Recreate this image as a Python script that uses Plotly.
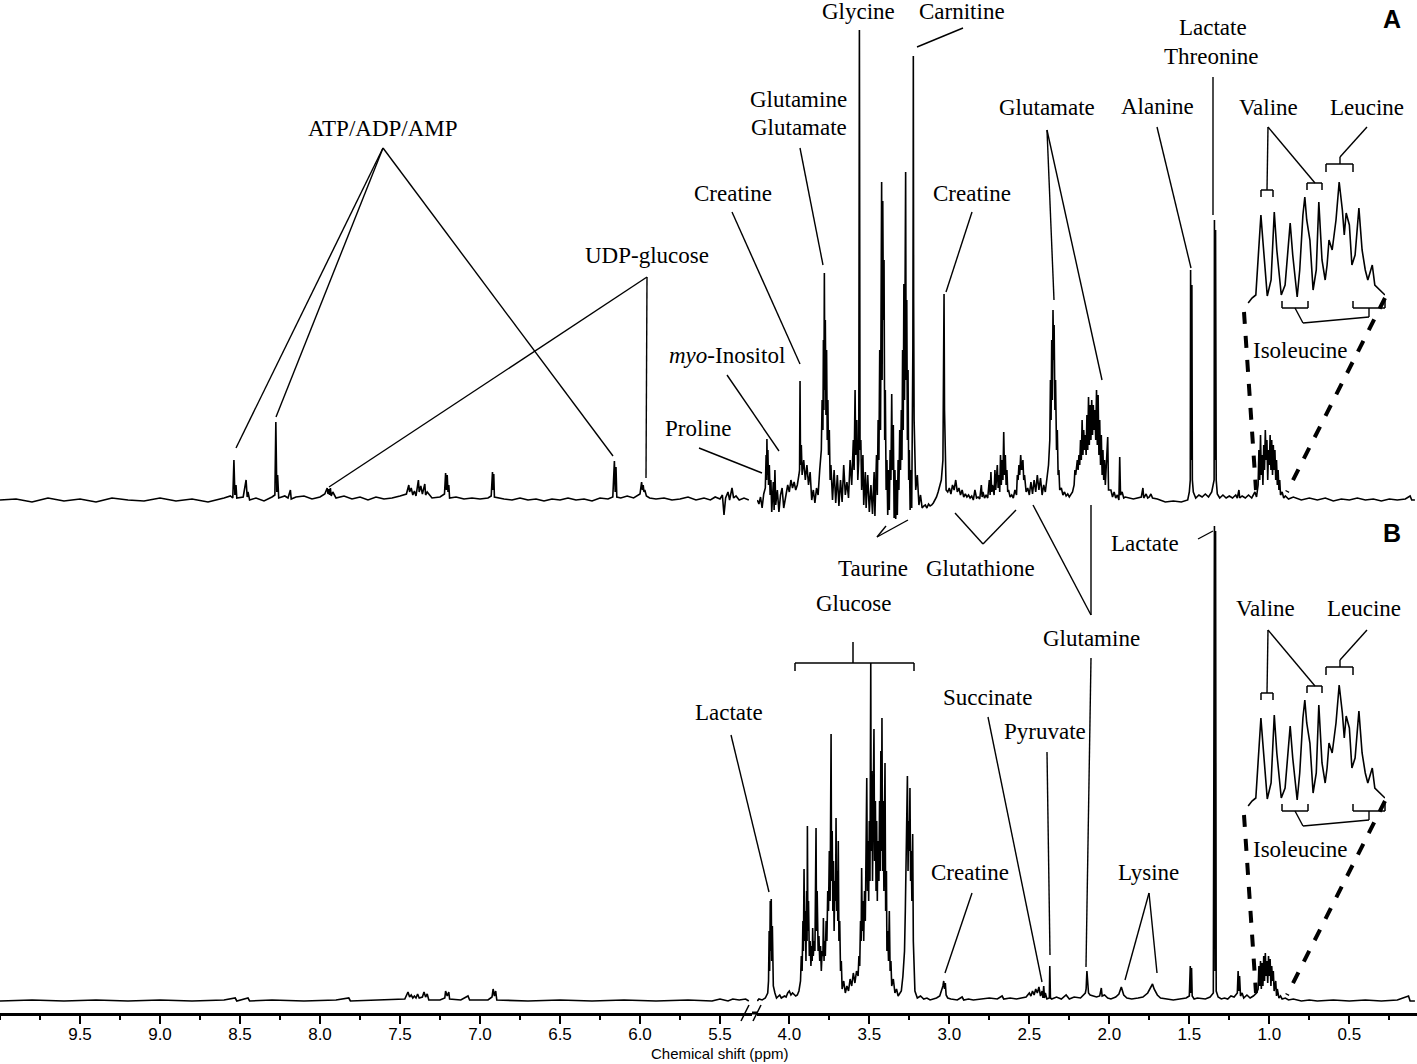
import plotly.graph_objects as go

# ---------------- spectrum data: (ppm, intensity) vertices ----------------
# Panel A (top), low-field part 10.0 - 5.3 ppm
a_left = [(10.0, 0), (9.9, 1), (9.8, -2), (9.7, 2), (9.6, -1), (9.5, 1), (9.4, -2), (9.3, 2), (9.2, 0),
          (9.1, -1), (9.0, 2), (8.9, -1), (8.8, 1), (8.7, -2), (8.6, 2), (8.56, 4), (8.545, 2), (8.538, 40),
          (8.532, 5), (8.525, 15), (8.52, 2), (8.48, 3), (8.462, 20), (8.455, 3), (8.45, 8), (8.44, 0),
          (8.40, 2), (8.35, -1), (8.30, 3), (8.282, 5), (8.276, 78), (8.27, 8), (8.265, 25), (8.258, 2),
          (8.22, 4), (8.20, 2), (8.185, 10), (8.18, 1), (8.15, 3), (8.10, 4), (8.05, 1), (8.00, 3), (7.97, 6),
          (7.955, 12), (7.95, 6), (7.945, 11), (7.94, 5), (7.935, 12), (7.93, 4), (7.92, 8), (7.90, 2),
          (7.85, 4), (7.80, 1), (7.75, 3), (7.70, 0), (7.65, 3), (7.60, 1), (7.55, 2), (7.50, 4), (7.46, 6),
          (7.445, 15), (7.44, 8), (7.43, 12), (7.42, 5), (7.41, 9), (7.40, 4), (7.385, 20), (7.38, 8),
          (7.37, 14), (7.36, 6), (7.345, 16), (7.34, 5), (7.33, 8), (7.30, 2), (7.25, 3), (7.222, 6),
          (7.215, 27), (7.21, 10), (7.205, 25), (7.20, 8), (7.195, 15), (7.19, 2), (7.15, 3), (7.10, 1),
          (7.05, 2), (7.00, 1), (6.95, 2), (6.93, 4), (6.922, 28), (6.918, 10), (6.914, 26), (6.91, 3),
          (6.85, 1), (6.80, 0), (6.75, 2), (6.70, 0), (6.65, 1), (6.60, -1), (6.55, 1), (6.50, 0), (6.45, 2),
          (6.40, 0), (6.35, 1), (6.30, -1), (6.25, 2), (6.20, 1), (6.17, 3), (6.16, 39), (6.155, 8),
          (6.15, 33), (6.145, 3), (6.12, 2), (6.08, 4), (6.04, 2), (6.00, 6), (5.99, 18), (5.985, 10),
          (5.98, 15), (5.975, 8), (5.97, 10), (5.96, 4), (5.94, 2), (5.90, 1), (5.85, 2), (5.80, 0), (5.75, 1),
          (5.70, 3), (5.65, 0), (5.60, 2), (5.56, 0), (5.53, 3), (5.50, 1), (5.485, 5), (5.475, -15),
          (5.465, 2), (5.45, 8), (5.44, 0), (5.425, 12), (5.415, 2), (5.40, 4), (5.38, 0), (5.35, 2), (5.32, 0)]

# Panel A, high-field part 4.2 - 0.08 ppm
a_right = [(4.20, 0), (4.19, -4), (4.18, 3), (4.17, -8), (4.16, 6), (4.15, 12), (4.145, 45), (4.142, 20),
           (4.140, 61), (4.137, 25), (4.134, 50), (4.13, 15), (4.125, 35), (4.12, 5), (4.115, 20), (4.11, -12),
           (4.10, 18), (4.095, -10), (4.09, 30), (4.085, -5), (4.075, 10), (4.065, -12), (4.055, 5),
           (4.045, 12), (4.035, -8), (4.02, 8), (4.01, 15), (4.00, 8), (3.99, 20), (3.98, 12), (3.97, 18),
           (3.96, 10), (3.95, 15), (3.94, 25), (3.936, 30), (3.933, 119), (3.930, 35), (3.925, 55), (3.92, 25),
           (3.91, 40), (3.90, 20), (3.89, 35), (3.88, 15), (3.87, 28), (3.86, 0), (3.85, 10), (3.84, -3),
           (3.83, 12), (3.82, 5), (3.81, 30), (3.80, 50), (3.795, 100), (3.79, 70), (3.787, 160), (3.784, 90),
           (3.781, 227), (3.778, 110), (3.775, 180), (3.771, 85), (3.767, 150), (3.763, 60), (3.759, 100),
           (3.755, 45), (3.75, 70), (3.745, 20), (3.74, 35), (3.73, 0), (3.72, 30), (3.71, -3), (3.70, 25),
           (3.69, -6), (3.68, 20), (3.67, -2), (3.66, 35), (3.65, 5), (3.64, 18), (3.63, 2), (3.62, 40),
           (3.61, 15), (3.60, 60), (3.595, 30), (3.589, 110), (3.585, 45), (3.578, 80), (3.572, 20),
           (3.566, 40), (3.562, 470), (3.558, 50), (3.553, 60), (3.548, 10), (3.54, 45), (3.535, -5),
           (3.525, 28), (3.52, -8), (3.51, 25), (3.50, -12), (3.49, 15), (3.48, -14), (3.47, 28), (3.465, -16),
           (3.455, 45), (3.45, 5), (3.445, 80), (3.44, 40), (3.435, 150), (3.43, 70), (3.426, 260),
           (3.423, 318), (3.42, 120), (3.416, 299), (3.412, 180), (3.408, 240), (3.404, 60), (3.40, 110),
           (3.395, 10), (3.39, 40), (3.385, -15), (3.38, 30), (3.375, -10), (3.37, 50), (3.365, 20),
           (3.36, 106), (3.356, 30), (3.35, 75), (3.345, -18), (3.34, 30), (3.335, -19), (3.33, 20),
           (3.325, -15), (3.32, 40), (3.315, 10), (3.31, 70), (3.305, 30), (3.30, 90), (3.296, 40),
           (3.292, 150), (3.288, 70), (3.284, 216), (3.28, 100), (3.277, 250), (3.273, 328), (3.27, 120),
           (3.266, 200), (3.262, 60), (3.258, 130), (3.254, 20), (3.25, 50), (3.245, -10), (3.24, 30),
           (3.235, -8), (3.23, 60), (3.228, 150), (3.226, 300), (3.225, 444), (3.223, 200), (3.22, 80),
           (3.215, 40), (3.21, 10), (3.20, 25), (3.19, -5), (3.18, 5), (3.17, -8), (3.16, -6), (3.15, -5),
           (3.14, -8), (3.13, -4), (3.12, -6), (3.11, -5), (3.10, -3), (3.09, 0), (3.08, 3), (3.07, 8),
           (3.06, 15), (3.05, 20), (3.04, 40), (3.036, 100), (3.033, 206), (3.030, 90), (3.026, 30),
           (3.02, 10), (3.01, 8), (3.00, 12), (2.99, 6), (2.98, 15), (2.97, 10), (2.96, 20), (2.95, 8),
           (2.94, 12), (2.93, 5), (2.92, 10), (2.91, 3), (2.90, 6), (2.89, 3), (2.88, 5), (2.87, 2), (2.86, 4),
           (2.85, 0), (2.84, 10), (2.83, 2), (2.82, 3), (2.81, 1), (2.80, 15), (2.795, 3), (2.79, 8), (2.78, 2),
           (2.77, 5), (2.76, 2), (2.75, 20), (2.745, 5), (2.74, 28), (2.735, 8), (2.73, 15), (2.72, 5),
           (2.715, 30), (2.71, 10), (2.70, 35), (2.695, 12), (2.69, 25), (2.685, 8), (2.68, 45), (2.675, 15),
           (2.67, 40), (2.665, 20), (2.66, 68), (2.655, 25), (2.65, 45), (2.645, 15), (2.64, 30), (2.635, 8),
           (2.63, 10), (2.62, 3), (2.61, 5), (2.60, 2), (2.59, 10), (2.58, 5), (2.575, 25), (2.57, 20),
           (2.565, 35), (2.56, 25), (2.554, 45), (2.548, 30), (2.54, 40), (2.535, 20), (2.53, 25), (2.52, 8),
           (2.51, 12), (2.50, 5), (2.49, 18), (2.48, 6), (2.47, 20), (2.46, 8), (2.45, 25), (2.44, 10),
           (2.43, 22), (2.42, 5), (2.41, 15), (2.40, 8), (2.39, 20), (2.38, 35), (2.372, 60), (2.368, 120),
           (2.364, 80), (2.36, 160), (2.356, 100), (2.352, 190), (2.348, 140), (2.345, 175), (2.34, 90),
           (2.336, 120), (2.33, 50), (2.325, 70), (2.32, 25), (2.315, 30), (2.31, 10), (2.30, 12), (2.29, 5),
           (2.28, 8), (2.27, 4), (2.26, 6), (2.25, 3), (2.24, 5), (2.23, 8), (2.22, 15), (2.215, 30),
           (2.21, 25), (2.20, 40), (2.195, 30), (2.19, 45), (2.185, 35), (2.18, 60), (2.175, 40), (2.17, 80),
           (2.165, 45), (2.16, 70), (2.155, 50), (2.15, 65), (2.145, 45), (2.14, 85), (2.135, 50), (2.13, 103),
           (2.125, 55), (2.12, 95), (2.115, 60), (2.11, 100), (2.105, 65), (2.10, 95), (2.095, 70), (2.09, 90),
           (2.085, 60), (2.08, 110), (2.075, 55), (2.07, 105), (2.065, 45), (2.06, 80), (2.055, 35), (2.05, 65),
           (2.045, 25), (2.04, 50), (2.035, 20), (2.03, 40), (2.025, 15), (2.01, 63), (2.005, 10), (1.99, 10),
           (1.98, 3), (1.97, 8), (1.96, 2), (1.95, 5), (1.94, 0), (1.935, 43), (1.93, 5), (1.92, 8), (1.91, 2),
           (1.90, 3), (1.85, 1), (1.80, 3), (1.79, 12), (1.785, 2), (1.77, 6), (1.76, 2), (1.75, 3), (1.74, 6),
           (1.73, 2), (1.70, 1), (1.65, -2), (1.60, -1), (1.55, -2), (1.51, 0), (1.50, 8), (1.494, 20),
           (1.492, 230), (1.488, 40), (1.484, 215), (1.481, 20), (1.475, 8), (1.46, 2), (1.44, 5), (1.42, 3),
           (1.40, 6), (1.38, 3), (1.36, 8), (1.345, 20), (1.343, 280), (1.339, 40), (1.336, 270),
           (1.332, 20), (1.325, 6), (1.31, 2), (1.29, 5), (1.27, 2), (1.25, 4), (1.23, 2), (1.21, 5),
           (1.20, 2), (1.19, 10), (1.185, 2), (1.17, 4), (1.15, 2), (1.13, 5), (1.11, 2), (1.09, 8), (1.08, 3),
           (1.07, 15), (1.065, 50), (1.06, 20), (1.055, 65), (1.05, 25), (1.045, 45), (1.04, 15), (1.035, 55),
           (1.03, 30), (1.025, 70), (1.02, 40), (1.015, 60), (1.01, 20), (1.005, 50), (1.00, 35), (0.995, 65),
           (0.99, 30), (0.985, 60), (0.98, 25), (0.975, 55), (0.97, 30), (0.965, 50), (0.96, 20), (0.955, 40),
           (0.95, 15), (0.945, 30), (0.94, 10), (0.935, 20), (0.93, 5), (0.92, 8), (0.91, 2), (0.90, 4),
           (0.88, 1), (0.85, 3), (0.80, 0), (0.75, 2), (0.70, 0), (0.65, 2), (0.60, -1), (0.55, 1), (0.50, 0),
           (0.45, 2), (0.40, 0), (0.35, 1), (0.30, -1), (0.25, 1), (0.20, 0), (0.15, 1), (0.12, 4), (0.11, 0),
           (0.09, 0)]

# Panel B (bottom), low-field part
b_left = [(10.0, 0), (9.8, 1), (9.6, 0), (9.4, 1), (9.2, 0), (9.0, 1), (8.8, 0), (8.6, 1), (8.53, 3),
          (8.52, 0), (8.45, 3), (8.44, 0), (8.3, 1), (8.1, 0), (7.9, 1), (7.82, 3), (7.81, 0), (7.6, 1),
          (7.47, 2), (7.45, 9), (7.44, 4), (7.43, 6), (7.42, 3), (7.41, 5), (7.40, 3), (7.39, 7), (7.38, 3),
          (7.36, 4), (7.35, 9), (7.34, 4), (7.33, 7), (7.32, 1), (7.25, 1), (7.22, 3), (7.215, 10),
          (7.205, 5), (7.195, 9), (7.19, 2), (7.12, 1), (7.075, 5), (7.065, 1), (6.95, 1), (6.925, 4),
          (6.918, 12), (6.91, 5), (6.902, 10), (6.895, 1), (6.7, 0), (6.5, 1), (6.3, 0), (6.1, 1), (5.9, 0),
          (5.7, 1), (5.55, 0), (5.5, 2), (5.45, 0), (5.42, 2), (5.38, 1), (5.34, 2), (5.32, 0)]

# Panel B, high-field part
b_right = [(4.20, 0), (4.19, 2), (4.17, 1), (4.15, 3), (4.135, 8), (4.13, 20), (4.126, 70), (4.123, 30),
           (4.119, 100), (4.116, 50), (4.113, 102), (4.11, 40), (4.106, 75), (4.10, 15), (4.09, 8), (4.08, 3),
           (4.06, 6), (4.05, 3), (4.03, 5), (4.02, 4), (4.01, 8), (4.00, 10), (3.99, 6), (3.98, 8), (3.96, 5),
           (3.95, 6), (3.94, 10), (3.93, 20), (3.925, 45), (3.92, 30), (3.915, 80), (3.912, 50), (3.908, 132),
           (3.904, 60), (3.90, 90), (3.896, 40), (3.892, 110), (3.889, 60), (3.887, 175), (3.884, 70),
           (3.88, 100), (3.875, 45), (3.87, 60), (3.865, 35), (3.86, 55), (3.857, 40), (3.854, 73), (3.85, 45),
           (3.845, 60), (3.84, 50), (3.836, 120), (3.833, 173), (3.83, 70), (3.826, 110), (3.82, 50),
           (3.815, 65), (3.81, 40), (3.805, 55), (3.80, 30), (3.795, 50), (3.79, 45), (3.787, 83), (3.783, 40),
           (3.78, 60), (3.775, 45), (3.77, 80), (3.765, 60), (3.76, 110), (3.755, 90), (3.75, 150),
           (3.745, 100), (3.742, 200), (3.739, 267), (3.736, 120), (3.732, 170), (3.728, 90), (3.724, 140),
           (3.72, 70), (3.715, 120), (3.711, 100), (3.708, 183), (3.704, 90), (3.70, 130), (3.697, 80),
           (3.694, 160), (3.69, 60), (3.685, 80), (3.68, 30), (3.675, 40), (3.67, 12), (3.66, 20), (3.65, 8),
           (3.64, 15), (3.63, 10), (3.62, 22), (3.61, 15), (3.60, 28), (3.59, 18), (3.58, 30), (3.57, 25),
           (3.565, 45), (3.56, 35), (3.555, 80), (3.551, 60), (3.548, 133), (3.544, 70), (3.54, 100),
           (3.535, 60), (3.53, 110), (3.525, 80), (3.52, 150), (3.516, 223), (3.512, 110), (3.508, 160),
           (3.504, 100), (3.50, 180), (3.496, 120), (3.491, 338), (3.488, 150), (3.484, 230), (3.48, 120),
           (3.475, 200), (3.471, 272), (3.467, 140), (3.462, 200), (3.458, 110), (3.454, 180), (3.45, 100),
           (3.447, 160), (3.444, 150), (3.44, 120), (3.436, 200), (3.432, 130), (3.428, 250), (3.424, 150),
           (3.421, 283), (3.417, 130), (3.413, 200), (3.409, 110), (3.405, 200), (3.402, 238), (3.398, 90),
           (3.393, 130), (3.39, 50), (3.385, 70), (3.38, 40), (3.375, 90), (3.37, 30), (3.365, 40), (3.36, 15),
           (3.35, 22), (3.34, 8), (3.33, 12), (3.32, 5), (3.31, 8), (3.30, 10), (3.29, 25), (3.28, 50),
           (3.275, 90), (3.27, 140), (3.266, 180), (3.262, 225), (3.258, 130), (3.254, 180), (3.25, 150),
           (3.246, 213), (3.242, 120), (3.238, 150), (3.234, 100), (3.229, 167), (3.225, 60), (3.22, 30),
           (3.215, 10), (3.20, 3), (3.18, 5), (3.16, 2), (3.14, 3), (3.12, 1), (3.10, 2), (3.08, 3), (3.06, 5),
           (3.05, 10), (3.04, 15), (3.035, 20), (3.03, 12), (3.025, 18), (3.02, 6), (3.01, 3), (2.99, 2),
           (2.95, 1), (2.92, 4), (2.91, 1), (2.88, 2), (2.85, 1), (2.80, 2), (2.75, 3), (2.70, 2), (2.67, 5),
           (2.66, 2), (2.62, 3), (2.58, 2), (2.55, 3), (2.52, 4), (2.50, 8), (2.49, 5), (2.48, 10), (2.47, 6),
           (2.46, 12), (2.45, 8), (2.44, 14), (2.43, 5), (2.42, 10), (2.415, 3), (2.41, 15), (2.405, 3),
           (2.40, 8), (2.39, 2), (2.375, 3), (2.372, 35), (2.368, 3), (2.36, 2), (2.33, 4), (2.30, 2),
           (2.27, 6), (2.25, 2), (2.22, 4), (2.18, 3), (2.15, 8), (2.145, 12), (2.14, 30), (2.135, 12),
           (2.13, 8), (2.12, 6), (2.10, 5), (2.08, 4), (2.06, 5), (2.05, 13), (2.045, 5), (2.03, 6), (2.01, 3),
           (1.99, 2), (1.96, 4), (1.94, 7), (1.925, 14), (1.91, 6), (1.89, 3), (1.86, 2), (1.82, 3), (1.79, 4),
           (1.76, 8), (1.74, 14), (1.73, 17), (1.72, 12), (1.70, 6), (1.68, 3), (1.64, 2), (1.60, 1),
           (1.56, 2), (1.52, 3), (1.50, 5), (1.494, 35), (1.49, 8), (1.486, 33), (1.482, 5), (1.47, 2),
           (1.45, 3), (1.42, 2), (1.40, 2), (1.37, 4), (1.35, 8), (1.343, 475), (1.339, 30), (1.336, 470),
           (1.332, 10), (1.32, 4), (1.30, 2), (1.28, 3), (1.26, 2), (1.24, 5), (1.22, 4), (1.20, 8),
           (1.195, 30), (1.19, 10), (1.186, 25), (1.18, 5), (1.17, 8), (1.16, 3), (1.14, 6), (1.12, 3),
           (1.10, 5), (1.08, 8), (1.07, 12), (1.065, 35), (1.06, 15), (1.055, 40), (1.05, 12), (1.045, 38),
           (1.04, 15), (1.035, 45), (1.03, 20), (1.025, 48), (1.02, 25), (1.015, 40), (1.01, 18), (1.005, 45),
           (1.00, 25), (0.995, 42), (0.99, 15), (0.985, 35), (0.98, 20), (0.975, 30), (0.97, 10), (0.96, 20),
           (0.955, 5), (0.95, 12), (0.94, 3), (0.93, 5), (0.92, 2), (0.90, 3), (0.88, 1), (0.85, 2), (0.80, 0),
           (0.75, 1), (0.70, 0), (0.60, 1), (0.50, 0), (0.40, 1), (0.30, 0), (0.20, 1), (0.13, 5), (0.12, 0),
           (0.09, 0)]

# expanded 1.08 - 0.86 ppm region (Valine / Leucine / Isoleucine), same in both panels
inset = [(1.075, -3), (1.069, 2), (1.063, 5), (1.055, 85), (1.052, 60), (1.045, 4), (1.039, 20),
         (1.034, 88), (1.030, 50), (1.023, 5), (1.017, 15), (1.009, 77), (1.005, 45), (0.998, 3),
         (0.994, 30), (0.989, 85), (0.986, 103), (0.983, 80), (0.978, 60), (0.973, 10), (0.968, 30),
         (0.964, 98), (0.959, 40), (0.954, 20), (0.951, 35), (0.948, 60), (0.943, 50), (0.937, 80),
         (0.932, 118), (0.927, 90), (0.924, 65), (0.921, 87), (0.916, 75), (0.912, 35), (0.907, 45),
         (0.901, 92), (0.896, 50), (0.891, 30), (0.887, 20), (0.880, 35), (0.876, 15), (0.868, 10),
         (0.860, 5)]

left_ticks = [9.5, 9.0, 8.5, 8.0, 7.5, 7.0, 6.5, 6.0, 5.5]
right_ticks = [4.0, 3.5, 3.0, 2.5, 2.0, 1.5, 1.0, 0.5]

# ---------------- figure ----------------
W, H = 1417, 1064
PB = 1013  # pixel row of the x axis line (plot bottom)


def pp(x, y):
    return x / W, (PB - y) / PB


fig = go.Figure()


def add_spec(pts, xa, ya):
    fig.add_trace(go.Scatter(x=[p for p, _ in pts], y=[v for _, v in pts], mode="lines",
                             line=dict(color="black", width=1.6), xaxis=xa, yaxis=ya,
                             hoverinfo="skip", showlegend=False))


add_spec(a_left, "x", "y")
add_spec(a_right, "x2", "y")
add_spec(b_left, "x", "y2")
add_spec(b_right, "x2", "y2")
add_spec(inset, "x3", "y3")
add_spec(inset, "x4", "y4")

tickfont = dict(family="Liberation Sans", size=17, color="black")
axis_common = dict(anchor="y2", ticks="outside", ticklen=8, tickwidth=1.5, tickcolor="black",
                   ticklabelstandoff=-4,
                   showline=True, linewidth=3, linecolor="black", showgrid=False, zeroline=False,
                   tickfont=tickfont,
                   minor=dict(tickmode="linear", tick0=0, dtick=0.25, ticks="outside", ticklen=4,
                              tickwidth=1.5, tickcolor="black"))

fig.update_layout(
    width=W, height=H, margin=dict(l=0, r=0, t=0, b=H - PB),
    paper_bgcolor="white", plot_bgcolor="white", showlegend=False,
    xaxis=dict(domain=[0, 752 / W], range=[10.0, 5.3], tickmode="array", tickvals=left_ticks,
               ticktext=[f"{v:.1f}" for v in left_ticks], **axis_common),
    xaxis2=dict(domain=[757 / W, 1], range=[4.202, 0.077], tickmode="array", tickvals=right_ticks,
                ticktext=[f"{v:.1f}" for v in right_ticks], **axis_common),
    yaxis=dict(domain=[pp(0, 520)[1], 1], range=[-20, 500], visible=False),
    yaxis2=dict(domain=[0, pp(0, 520)[1]], range=[-12, 481], visible=False),
    xaxis3=dict(domain=[1245 / W, 1385 / W], range=[1.08, 0.86], anchor="y3", visible=False),
    yaxis3=dict(domain=[pp(0, 310)[1], pp(0, 170)[1]], range=[-10, 130], anchor="x3", visible=False),
    xaxis4=dict(domain=[1245 / W, 1385 / W], range=[1.08, 0.86], anchor="y4", visible=False),
    yaxis4=dict(domain=[pp(0, 813)[1], pp(0, 673)[1]], range=[-10, 130], anchor="x4", visible=False),
)

# ---------------- labels ----------------
serif = dict(family="Liberation Serif", size=23, color="black")
labels = [
    ("ATP/ADP/AMP", 383, 128), ("UDP-glucose", 647, 255), ("Creatine", 733, 193),
    ("<i>myo</i>-Inositol", 727, 355), ("Proline", 698, 428), ("Glutamine", 798, 100),
    ("Glutamate", 799, 127), ("Glycine", 858, 12), ("Carnitine", 962, 11), ("Creatine", 972, 193),
    ("Glutamate", 1047, 108), ("Alanine", 1157, 107), ("Lactate", 1213, 28), ("Threonine", 1211, 56),
    ("Valine", 1268, 108), ("Leucine", 1367, 108), ("Isoleucine", 1300, 350),
    ("Taurine", 873, 568), ("Glutathione", 980, 568), ("Glutamine", 1091, 638),
    ("Lactate", 1145, 543), ("Glucose", 853, 603), ("Lactate", 729, 712), ("Succinate", 987, 697),
    ("Pyruvate", 1045, 731), ("Creatine", 970, 872), ("Lysine", 1148, 872),
    ("Valine", 1265, 608), ("Leucine", 1364, 608), ("Isoleucine", 1300, 850),
]
for text, x, y in labels:
    px, py = pp(x, y)
    fig.add_annotation(text=text, x=px, y=py, xref="paper", yref="paper", showarrow=False,
                       xanchor="center", yanchor="middle", font=serif)

for text, x, y in [("A", 1392, 19), ("B", 1392, 533)]:
    px, py = pp(x, y)
    fig.add_annotation(text=f"<b>{text}</b>", x=px, y=py, xref="paper", yref="paper", showarrow=False,
                       xanchor="center", yanchor="middle",
                       font=dict(family="Liberation Sans", size=25, color="black"))

px, py = pp(720, 1053)
fig.add_annotation(text="Chemical shift (ppm)", x=px, y=py, xref="paper", yref="paper", showarrow=False,
                   xanchor="center", yanchor="middle",
                   font=dict(family="Liberation Sans", size=15, color="black"))

# ---------------- leader lines / brackets ----------------
shapes = []


def poly(points, width=1.4, dash=None):
    for (x0, y0), (x1, y1) in zip(points[:-1], points[1:]):
        a, b = pp(x0, y0)
        c, d = pp(x1, y1)
        line = dict(color="black", width=width)
        if dash:
            line["dash"] = dash
        shapes.append(dict(type="line", xref="paper", yref="paper", x0=a, y0=b, x1=c, y1=d, line=line))


# panel A
poly([(236, 448), (383, 148), (276, 417)])
poly([(383, 148), (613, 456)])
poly([(329, 487), (647, 277), (646, 478)])
poly([(732, 212), (800, 364)])
poly([(727, 375), (779, 451)])
poly([(699, 448), (762, 473)])
poly([(800, 148), (823, 265)])
poly([(963, 28), (917, 47)])
poly([(972, 212), (946, 292)])
poly([(1054, 300), (1047, 130), (1102, 380)])
poly([(1157, 127), (1191, 268)])
poly([(1213, 77), (1213, 215)])
poly([(886, 526), (877, 537), (908, 520)])
poly([(955, 513), (983, 544), (1016, 510)])
poly([(1033, 505), (1091, 615), (1091, 505)])
poly([(1091, 658), (1086, 967)])

# panel B
poly([(1198, 539), (1213, 531)])
poly([(795, 671), (795, 663), (914, 663), (914, 671)], width=1.5)
poly([(853, 642), (853, 663)], width=1.5)
poly([(731, 735), (769, 892)])
poly([(988, 717), (1042, 982)])
poly([(1047, 752), (1050, 955)])
poly([(972, 893), (945, 973)])
poly([(1125, 980), (1149, 893), (1157, 973)])

# inset annotations (A, then B shifted down)
for dy in (0, 503):
    poly([(1268, 127 + dy), (1267, 190 + dy)])
    poly([(1268, 127 + dy), (1315, 183 + dy)])
    poly([(1261, 197 + dy), (1261, 190 + dy), (1273, 190 + dy), (1273, 197 + dy)], width=1.5)
    poly([(1307, 190 + dy), (1307, 183 + dy), (1322, 183 + dy), (1322, 190 + dy)], width=1.5)
    poly([(1326, 172 + dy), (1326, 164 + dy), (1353, 164 + dy), (1353, 172 + dy)], width=1.5)
    poly([(1367, 127 + dy), (1340, 157 + dy), (1340, 164 + dy)])
    poly([(1282, 301 + dy), (1282, 308 + dy), (1308, 308 + dy), (1308, 301 + dy)], width=1.5)
    poly([(1353, 301 + dy), (1353, 308 + dy), (1385, 308 + dy), (1385, 301 + dy)], width=1.5)
    poly([(1295, 308 + dy), (1303, 323 + dy), (1369, 317 + dy), (1369, 308 + dy)])
    poly([(1244, 312 + dy), (1256, 490 + dy)], width=4, dash="dash")
    poly([(1385, 298 + dy), (1287, 492 + dy)], width=4, dash="dash")

# axis break
poly([(752, 1013), (757, 1013)], width=3)
poly([(741, 1021), (749, 1005)], width=1.5)
poly([(753, 1021), (761, 1005)], width=1.5)

fig.update_layout(shapes=shapes)
# the page body keeps the browser's default 8px margin; drop it so the figure sits at 0,0
fig.write_html("out.html", config={"displayModeBar": False},
               post_script="document.body.style.margin='0px';")
